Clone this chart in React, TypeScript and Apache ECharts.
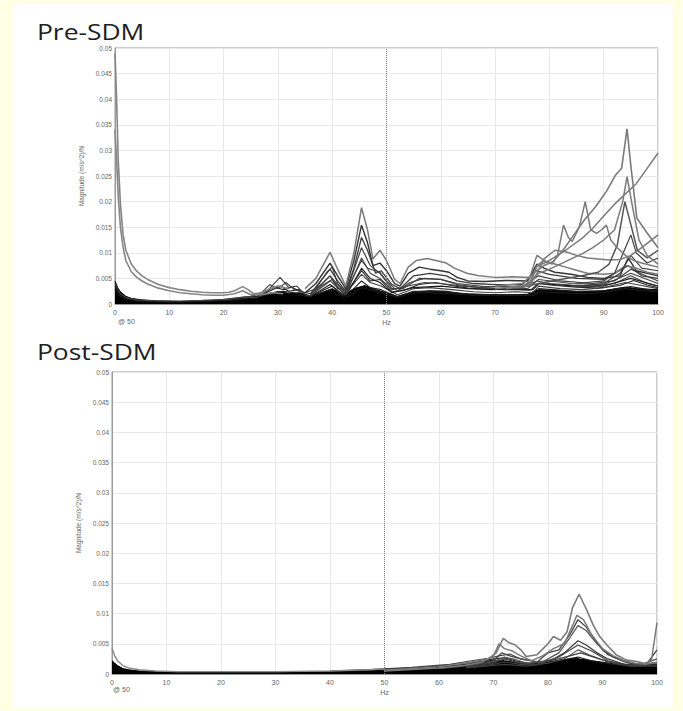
import React, { useEffect, useRef } from "react";
import * as echarts from "echarts";

type P = [number, number][];

// ---------- Pre-SDM (Hz, magnitude) ----------
const PRE_G1: P = [[0,0.049],[0.3,0.04],[0.6,0.028],[1,0.0195],[1.5,0.0135],[2,0.0105],[3,0.0078],[4,0.0064],[5,0.0055],[6,0.0048],[8,0.0038],[10,0.0032],[12,0.0028],[14,0.0025],[16,0.0023],[18,0.0022],[20,0.0022],[21,0.0023],[22,0.0026],[23.5,0.0034],[24.5,0.0028],[25.5,0.002],[27,0.0022],[28.5,0.003],[30,0.0035],[32,0.003]];
const PRE_G2: P = [[0,0.034],[0.3,0.028],[0.6,0.021],[1,0.015],[1.5,0.011],[2,0.0085],[3,0.0063],[4,0.0052],[5,0.0045],[6,0.0039],[8,0.0031],[10,0.0026],[12,0.0022],[14,0.002],[16,0.0018],[18,0.0017],[20,0.0017],[22,0.002],[23.5,0.0026],[25,0.0018],[27,0.0018],[29,0.0022],[31,0.002]];
const PRE_H1: P = [[35,0.003],[37,0.005],[39.6,0.0101],[41,0.0068],[42.5,0.0035],[44,0.01],[45.4,0.0188],[46.5,0.0145],[47.5,0.0088],[48.8,0.0105],[50,0.0085],[51.5,0.0048],[52.5,0.004],[54,0.0072],[55.5,0.0085],[57.5,0.0089],[59.5,0.0084],[61,0.008],[62.5,0.007],[64.8,0.006],[67,0.0055],[70,0.0052],[73,0.0053],[76.4,0.0052],[77.7,0.0095],[79.5,0.0082],[81,0.0078],[83,0.0072],[85,0.0066],[87,0.006],[90,0.0058],[92,0.006],[94,0.0075],[96,0.007],[98,0.0062],[100,0.0058]];
const PRE_H2: P = [[35,0.0022],[37,0.004],[39.6,0.008],[41,0.0055],[42.5,0.003],[44,0.0085],[45.4,0.0154],[46.5,0.012],[47.5,0.0075],[48.8,0.008],[50,0.0065],[51.5,0.004],[52.5,0.0035],[54,0.006],[56,0.0072],[58,0.0068],[60,0.0065],[61.5,0.0062],[63,0.0052],[65,0.0045],[68,0.0044],[72,0.0046],[76,0.0045],[77.7,0.0078],[79,0.007],[81,0.0062],[84,0.0058],[87,0.0052],[90,0.005],[93,0.0055],[94.5,0.009],[96,0.0065],[100,0.0055]];
const PRE_H3: P = [[36,0.002],[39.6,0.0068],[41,0.0045],[42.5,0.0025],[44,0.007],[45.4,0.013],[46.5,0.0105],[48,0.006],[49,0.0065],[51,0.0038],[52.5,0.003],[55,0.0055],[58,0.006],[61,0.0055],[63,0.0045],[66,0.004],[70,0.0038],[75,0.0038],[77.5,0.0065],[80,0.0058],[85,0.005],[90,0.0048],[94.5,0.0075],[97,0.0055],[100,0.005]];
const PRE_H4: P = [[36,0.0018],[39.6,0.0055],[42.5,0.002],[45.4,0.011],[47,0.0075],[48.8,0.006],[51,0.003],[53,0.003],[56,0.005],[60,0.0048],[63,0.004],[68,0.0034],[75,0.0034],[78,0.0055],[82,0.0045],[88,0.004],[92,0.0045],[95,0.0068],[100,0.0045]];
const PRE_H5: P = [[36,0.0016],[39.6,0.0045],[42.5,0.0018],[45.4,0.009],[47,0.006],[48.8,0.005],[51,0.0028],[54,0.0035],[57,0.0042],[60,0.004],[64,0.0035],[70,0.003],[76,0.003],[78,0.0048],[84,0.004],[90,0.0038],[95,0.006],[100,0.004]];
const PRE_H6: P = [[36,0.0014],[39.6,0.0038],[42.5,0.0015],[45.4,0.007],[47,0.005],[48.8,0.0042],[51,0.0022],[55,0.0032],[60,0.0035],[65,0.003],[72,0.0028],[77,0.0028],[78,0.004],[85,0.0035],[90,0.0035],[95,0.005],[100,0.0035]];
const PRE_M1: P = [[0,0.004],[1,0.002],[2,0.0013],[4,0.0008],[8,0.0006],[12,0.0006],[16,0.0007],[20,0.0009],[24,0.0014],[26,0.0012],[28,0.0025],[30.4,0.0052],[32,0.0032],[33.5,0.0035],[35,0.0018],[36,0.0015],[38,0.0035],[40,0.0048],[42,0.002],[44,0.004],[45.4,0.0058],[47,0.0042],[49,0.0035],[52,0.0018],[55,0.003],[58,0.0032],[62,0.0028],[66,0.0024],[70,0.0022],[74,0.0024],[77,0.0022],[78,0.0035],[82,0.003],[86,0.0028],[90,0.0032],[94,0.0042],[96,0.0038],[100,0.003]];
const PRE_M2: P = [[0,0.003],[1,0.0015],[2,0.001],[4,0.0006],[10,0.0004],[16,0.0005],[20,0.0007],[24,0.001],[27,0.0018],[29,0.0028],[30.4,0.0035],[32,0.0025],[34,0.0028],[35.5,0.0015],[38,0.0025],[40,0.0035],[42,0.0015],[44,0.003],[45.4,0.0045],[47,0.0032],[49,0.0028],[52,0.0014],[55,0.0025],[60,0.0024],[65,0.002],[70,0.0018],[76,0.0018],[78,0.003],[85,0.0025],[90,0.0026],[95,0.0034],[100,0.0025]];
const PRE_M3: P = [[20,0.0008],[25,0.0015],[27,0.0022],[28.5,0.0038],[30,0.003],[31.5,0.0042],[33,0.0028],[35,0.0022],[37,0.003],[39,0.0062],[40,0.0072],[41,0.004],[42.5,0.0022],[44,0.0055],[45.4,0.0085],[46.5,0.007],[48.8,0.0062],[50,0.0045],[52,0.0025],[54.3,0.0042],[57,0.005],[60,0.0048],[63,0.0038],[67,0.0032],[71,0.003],[75,0.0032],[77.7,0.0045],[80,0.004],[84,0.0037],[88,0.0035],[92,0.004],[95,0.0055],[98,0.004],[100,0.0035]];
const PRE_M4: P = [[0,0.0035],[1,0.0018],[3,0.0009],[6,0.0006],[12,0.0005],[18,0.0006],[22,0.0008],[25,0.0012],[27,0.0015],[29,0.0022],[31,0.0025],[33,0.0022],[35,0.0015],[37,0.0018],[39.6,0.0028],[41,0.0018],[43,0.0015],[45.4,0.0032],[47,0.0028],[49,0.0022],[52,0.0013],[55,0.0022],[58,0.0022],[62,0.002],[66,0.0017],[70,0.0016],[74,0.0017],[77,0.0016],[78,0.0024],[82,0.0022],[86,0.002],[90,0.0022],[94,0.003],[97,0.0026],[100,0.0024]];
const PRE_M5: P = [[24,0.0011],[26,0.0018],[28,0.0026],[29.5,0.0033],[31,0.0028],[32.5,0.0033],[34,0.0025],[36,0.002],[38,0.0038],[39.6,0.0055],[41,0.003],[43,0.0028],[45.4,0.0065],[47,0.0045],[48.8,0.0048],[51,0.0024],[53,0.0026],[56,0.0038],[59,0.0042],[62,0.0036],[65,0.0031],[69,0.0028],[73,0.0029],[76.5,0.0027],[78,0.004],[81,0.0036],[85,0.0033],[89,0.0031],[93,0.0036],[95.5,0.0046],[98,0.0037],[100,0.0032]];
const PRE_L1: P = [[70,0.003],[74,0.0035],[76.5,0.0038],[77.7,0.0075],[79,0.0085],[80.5,0.0078],[81.5,0.0095],[82.6,0.0154],[83.5,0.013],[84.2,0.0122],[85.5,0.015],[86.6,0.02],[87.6,0.0145],[88.7,0.0138],[89.6,0.0145],[90.5,0.0154],[91.3,0.0125],[92.5,0.011],[94,0.0095],[95.5,0.0085],[97,0.008],[100,0.0072]];
const PRE_L2: P = [[70,0.0035],[75,0.004],[77.7,0.0065],[79,0.0075],[80.7,0.0083],[82.5,0.0105],[84.5,0.0135],[86.5,0.0165],[88.5,0.019],[90.5,0.022],[92.2,0.0252],[93.3,0.0265],[94.3,0.0342],[95,0.027],[96.1,0.0168],[97.9,0.014],[100,0.011]];
const PRE_L3: P = [[72,0.003],[76,0.0035],[78,0.006],[80,0.0068],[82,0.0078],[84,0.0088],[86,0.0098],[88,0.011],[90,0.0125],[92,0.0145],[93.5,0.02],[94.3,0.0249],[95.3,0.019],[96.5,0.0125],[98,0.0095],[100,0.0078]];
const PRE_L4: P = [[74,0.003],[78,0.004],[82,0.0048],[86,0.0055],[89,0.0062],[91,0.0078],[92.5,0.0115],[93.9,0.02],[95,0.0155],[96.2,0.0105],[98,0.009],[100,0.0105]];
const PRE_L5: P = [[76,0.0035],[77.7,0.0073],[80,0.0085],[83,0.0105],[86,0.0128],[88,0.0148],[90,0.0172],[92,0.0195],[94,0.0215],[96,0.0235],[98,0.0265],[100,0.0295]];
const PRE_L6: P = [[76,0.003],[77.7,0.006],[79,0.0088],[81,0.0105],[83,0.0102],[85,0.0095],[87,0.009],[89,0.0088],[91,0.0086],[93,0.0087],[95,0.0095],[97,0.011],[100,0.0135]];
const PRE_L7: P = [[85,0.004],[90,0.0045],[92,0.006],[94,0.011],[95,0.0135],[96,0.01],[98,0.008],[100,0.009]];
const PRE_L8: P = [[85,0.0035],[90,0.004],[93,0.006],[95,0.0095],[97,0.007],[100,0.0065]];
const PRE_MASS: P = [[0,0.0045],[0.5,0.0032],[1,0.0024],[2,0.0015],[3,0.0011],[5,0.0008],[8,0.0006],[12,0.0005],[16,0.0006],[20,0.0008],[23,0.0011],[26,0.0014],[28,0.002],[30,0.0024],[32,0.0021],[34,0.0022],[36,0.0016],[38,0.0022],[40,0.003],[42,0.0017],[44,0.003],[46,0.0036],[48,0.0028],[50,0.0022],[52,0.0015],[55,0.0024],[58,0.0026],[61,0.0025],[64,0.002],[68,0.0018],[72,0.0018],[76,0.0019],[78,0.0028],[82,0.0026],[86,0.0024],[90,0.0026],[94,0.0033],[96,0.003],[100,0.0028]];

// ---------- Post-SDM (Hz, magnitude) ----------
const POST_P0: P = [[0,0.0043],[0.5,0.003],[1,0.0022],[2,0.0014],[3,0.001],[5,0.0007],[8,0.0005],[12,0.0004],[20,0.0004],[30,0.0004],[40,0.0005],[50,0.0008]];
const POST_Q1: P = [[50,0.0006],[60,0.0012],[66,0.002],[69,0.0025],[70.5,0.0035],[71.8,0.0059],[72.8,0.0052],[74,0.0048],[75,0.004],[76,0.0029],[78,0.0032],[80,0.005],[81,0.0062],[82.3,0.0056],[83.5,0.007],[84.5,0.011],[85.7,0.0132],[87,0.0108],[88.3,0.0081],[89.5,0.0062],[90.8,0.0048],[92.5,0.0032],[94.4,0.0023],[96,0.0021],[97.5,0.0018],[98.5,0.0017],[100,0.0019]];
const POST_Q2: P = [[50,0.0005],[60,0.001],[65,0.0015],[68,0.002],[70,0.003],[71,0.005],[72,0.0042],[73.5,0.0038],[75,0.003],[77,0.0022],[79,0.003],[81,0.0042],[83,0.005],[84.5,0.008],[85.3,0.0097],[86.5,0.009],[88,0.0065],[90,0.0042],[92,0.003],[94,0.0022],[96,0.0018],[98,0.0016],[99,0.0024],[100,0.0085]];
const POST_Q3: P = [[60,0.0009],[66,0.0014],[70,0.0022],[71.5,0.0035],[73,0.003],[75,0.0025],[78,0.002],[80,0.0035],[82,0.004],[84,0.0065],[85.5,0.009],[87,0.0078],[88.5,0.0058],[90,0.004],[92,0.0028],[95,0.0018],[98,0.0015],[100,0.004]];
const POST_Q4: P = [[60,0.0009],[70,0.002],[72,0.0028],[74,0.0024],[76,0.0018],[79,0.002],[82,0.0035],[84,0.006],[85.5,0.008],[87,0.0072],[89,0.005],[91,0.0032],[94,0.002],[97,0.0015],[100,0.0025]];
const POST_Q5: P = [[65,0.0012],[70,0.0018],[72,0.0025],[75,0.0018],[78,0.0016],[81,0.0025],[83,0.0035],[85.5,0.0055],[87,0.0048],[89,0.0035],[91,0.0025],[94,0.0016],[100,0.0018]];
const POST_Q6: P = [[65,0.0011],[70,0.0016],[72,0.002],[75,0.0016],[78,0.0015],[82,0.0028],[85.5,0.0048],[88,0.0038],[91,0.0022],[95,0.0014],[100,0.0015]];
const POST_Q7: P = [[65,0.001],[72,0.0016],[76,0.0013],[80,0.0018],[83,0.0025],[85.5,0.004],[88,0.003],[91,0.002],[95,0.0013],[100,0.0013]];
const POST_R1: P = [[40,0.0005],[50,0.0008],[55,0.001],[60,0.0013],[64,0.0017],[67,0.002],[70,0.0025],[72,0.0027],[74,0.0022],[77,0.0017],[80,0.002],[83,0.0024],[85.5,0.0028],[88,0.0022],[92,0.0016],[96,0.0013],[100,0.0016]];
const POST_R2: P = [[45,0.0006],[55,0.0011],[62,0.0016],[66,0.0022],[69,0.0026],[71,0.003],[73,0.0033],[75,0.0025],[78,0.002],[81,0.0023],[84,0.003],[86,0.0035],[89,0.0026],[93,0.0016],[97,0.0014],[100,0.002]];
const POST_MASS: P = [[0,0.0022],[0.5,0.0018],[1,0.0014],[2,0.0009],[3,0.0007],[5,0.0005],[8,0.0004],[12,0.0003],[20,0.0003],[30,0.0003],[40,0.0004],[46,0.0005],[50,0.0006],[55,0.0009],[60,0.0012],[65,0.0016],[68,0.002],[70,0.0023],[72,0.0022],[75,0.0018],[78,0.0017],[82,0.0022],[85,0.0026],[88,0.0022],[92,0.0017],[96,0.0015],[100,0.0016]];

const X_TICKS = [0, 10, 20, 30, 40, 50, 60, 70, 80, 90, 100];
const Y_MAX = 0.05;
const Y_STEP = 0.005;

const TICK_FONT = "Liberation Sans";

function ln(data: P, g: number, color: string, width: number, z = 2): any {
  return {
    type: "line",
    xAxisIndex: g,
    yAxisIndex: g,
    data,
    symbol: "none",
    showSymbol: false,
    silent: true,
    z,
    lineStyle: { color, width },
  };
}

function area(data: P, g: number): any {
  return {
    type: "line",
    xAxisIndex: g,
    yAxisIndex: g,
    data,
    symbol: "none",
    silent: true,
    z: 1,
    lineStyle: { color: "#000", width: 1 },
    areaStyle: { color: "#000", opacity: 1 },
  };
}

function xAx(g: number): any {
  return {
    type: "value",
    gridIndex: g,
    min: X_TICKS[0],
    max: X_TICKS[X_TICKS.length - 1],
    interval: 10,
    name: "Hz",
    nameLocation: "middle",
    nameGap: 15,
    nameTextStyle: { fontSize: 7, color: "#666", fontFamily: TICK_FONT },
    axisLine: { show: true, lineStyle: { color: "#999", width: 1 } },
    axisTick: { show: false },
    axisLabel: { fontSize: 7, color: "#666", margin: 5, fontFamily: TICK_FONT },
    splitLine: { show: true, lineStyle: { color: "#e8e8e8", width: 1 } },
  };
}

function yAx(g: number, gap: number): any {
  return {
    type: "value",
    gridIndex: g,
    min: 0,
    max: Y_MAX,
    interval: Y_STEP,
    name: "Magnitude (m/s^2)/N",
    nameLocation: "middle",
    nameGap: gap,
    nameTextStyle: { fontSize: 6.5, color: "#666", fontFamily: TICK_FONT },
    axisLine: { show: true, lineStyle: { color: "#999", width: 1 } },
    axisTick: { show: false },
    axisLabel: {
      fontSize: 6.5,
      color: "#666",
      margin: 3,
      fontFamily: TICK_FONT,
      formatter: (v: number) => String(parseFloat(v.toFixed(3))),
    },
    splitLine: { show: true, lineStyle: { color: "#e8e8e8", width: 1 } },
  };
}

const marker50: any = {
  silent: true,
  symbol: ["none", "none"],
  label: { show: false },
  lineStyle: { color: "#888", type: "dotted", width: 1 },
  data: [{ xAxis: 50 }],
};

export default function App() {
  const ref = useRef<HTMLDivElement>(null);
  useEffect(() => {
    if (!ref.current) return;
    const chart = echarts.init(ref.current, undefined, { renderer: "svg" });
    const TOP = "#7a7a7a";
    const MID = "#404040";
    const LOW = "#1c1c1c";
    const preSeries = [
      area(PRE_MASS, 0),
      ln(PRE_M4, 0, LOW, 1.1),
      ln(PRE_M2, 0, LOW, 1.1),
      ln(PRE_M5, 0, "#262626", 1.1),
      ln(PRE_M1, 0, MID, 1.1),
      ln(PRE_M3, 0, MID, 1.1),
      ln(PRE_H6, 0, LOW, 1.1),
      ln(PRE_H5, 0, MID, 1.1),
      ln(PRE_H4, 0, MID, 1.2),
      ln(PRE_H3, 0, "#3a3a3a", 1.3),
      ln(PRE_H2, 0, "#333", 1.4),
      ln(PRE_H1, 0, TOP, 1.5),
      ln(PRE_L8, 0, MID, 1.1),
      ln(PRE_L7, 0, MID, 1.2),
      ln(PRE_L6, 0, TOP, 1.5),
      ln(PRE_L5, 0, TOP, 1.5),
      ln(PRE_L4, 0, "#555", 1.5),
      ln(PRE_L3, 0, TOP, 1.5),
      ln(PRE_L1, 0, TOP, 1.5),
      ln(PRE_L2, 0, TOP, 1.6),
      ln(PRE_G2, 0, "#858585", 1.6),
      ln(PRE_G1, 0, "#858585", 1.6),
    ];
    preSeries[0].markLine = marker50;
    const postSeries = [
      area(POST_MASS, 1),
      ln(POST_R1, 1, LOW, 1.1),
      ln(POST_R2, 1, MID, 1.1),
      ln(POST_Q7, 1, MID, 1.1),
      ln(POST_Q6, 1, MID, 1.1),
      ln(POST_Q5, 1, "#3a3a3a", 1.2),
      ln(POST_Q4, 1, "#555", 1.3),
      ln(POST_Q3, 1, "#444", 1.3),
      ln(POST_Q2, 1, TOP, 1.5),
      ln(POST_Q1, 1, TOP, 1.6),
      ln(POST_P0, 1, "#8a8a8a", 1.4),
    ];
    postSeries[0].markLine = marker50;

    chart.setOption({
      animation: false,
      backgroundColor: "#FFFFE4",
      graphic: [
        { type: "rect", shape: { x: 13, y: 3, width: 660, height: 705 }, style: { fill: "#fff" }, z: -10, silent: true },
        { type: "text", x: 37, y: 31, scaleX: 1.2, style: { text: "Pre-SDM", font: '22px "Open Sans"', fill: "#1e1e1e", verticalAlign: "middle" } },
        { type: "text", x: 37, y: 351, scaleX: 1.2, style: { text: "Post-SDM", font: '22px "Open Sans"', fill: "#1e1e1e", verticalAlign: "middle" } },
        { type: "text", x: 118, y: 321, style: { text: "@ 50", font: '7px "Liberation Sans"', fill: "#666", verticalAlign: "middle" } },
        { type: "text", x: 113, y: 689, style: { text: "@ 50", font: '7px "Liberation Sans"', fill: "#666", verticalAlign: "middle" } },
      ],
      grid: [
        { left: 115, top: 48, width: 543, height: 256, show: true, borderColor: "#999", borderWidth: 1, backgroundColor: "#fff" },
        { left: 112, top: 372, width: 545, height: 302, show: true, borderColor: "#999", borderWidth: 1, backgroundColor: "#fff" },
      ],
      xAxis: [xAx(0), xAx(1)],
      yAxis: [yAx(0, 26), yAx(1, 26)],
      series: [...preSeries, ...postSeries],
    });
    return () => chart.dispose();
  }, []);
  return <div ref={ref} style={{ position: "absolute", left: 0, top: 0, width: 683, height: 711 }} />;
}
